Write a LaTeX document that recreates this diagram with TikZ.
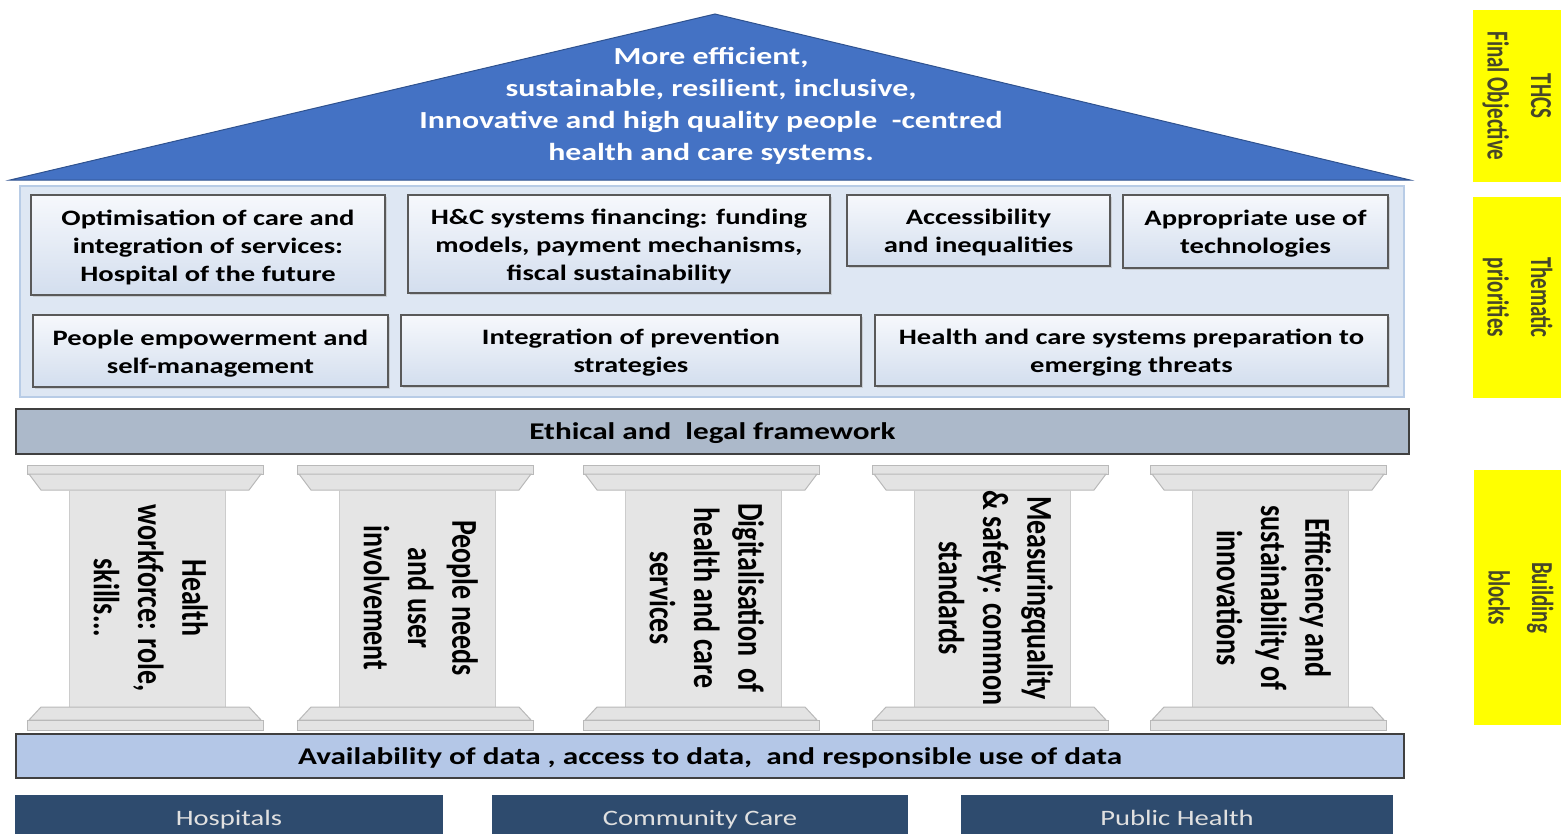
\documentclass[tikz,border=0pt]{standalone}
\usepackage{fontspec}
\setmainfont{Carlito}
\usepackage{graphicx}
\usetikzlibrary{shadows}

\definecolor{roofblue}{HTML}{4472C4}
\definecolor{roofline}{HTML}{2F528F}
\definecolor{panelfill}{HTML}{DEE7F3}
\definecolor{panelline}{HTML}{B8CCE6}
\definecolor{boxtop}{HTML}{F6F8FC}
\definecolor{boxbottom}{HTML}{D3DEEE}
\definecolor{ethicfill}{HTML}{ACB9CA}
\definecolor{datafill}{HTML}{B4C7E7}
\definecolor{sectorfill}{HTML}{2E4B6E}
\definecolor{labelyellow}{HTML}{FFFF00}
\definecolor{labeltext}{HTML}{46462A}

\newcommand*\stretchx{1.3}
\newcommand*\widetext[1]{\raisebox{-2.5pt}[\height][\depth]{%
    \scalebox{\stretchx}[1]{\begin{tabular}{@{}c@{}}#1\end{tabular}}}}
\newcommand*\talltext[1]{\scalebox{1}[\stretchx]{\begin{tabular}{@{}c@{}}#1\end{tabular}}}
\tikzset{
    roofnote/.style = {text=white, inner sep=0pt,
                      font=\bfseries\fontsize{24.5}{32}\selectfont},
    theme/.style    = {draw=gray!70!black, line width=1.8pt, inner sep=0pt,
                      top color=boxtop, bottom color=boxbottom,
                      drop shadow={shadow xshift=1.5pt, shadow yshift=-2pt, fill=gray!60},
                      font=\bfseries\fontsize{22}{28}\selectfont},
    band/.style     = {draw=black!75, line width=1.6pt, inner sep=0pt,
                      font=\bfseries\fontsize{24}{28}\selectfont},
    capital/.style  = {fill=gray!22, draw=gray!55, line width=1pt},
    shaft/.style    = {fill=gray!20, draw=gray!40, line width=1pt},
    pillartext/.style = {inner sep=0pt, font=\bfseries\fontsize{28}{34}\selectfont},
    sector/.style   = {fill=sectorfill, text=white!88!black, inner sep=0pt,
                      minimum height=45pt, font=\fontsize{22}{26}\selectfont},
    sidelabel/.style = {fill=labelyellow, text=labeltext, inner sep=0pt,
                      minimum width=90pt, font=\bfseries\fontsize{21}{30}\selectfont},
}

\begin{document}
\begin{tikzpicture}[x=1pt, y=-1pt]
    \useasboundingbox (0,0) rectangle (1561,833);

    % roof: final objective
    \filldraw[fill=roofblue, draw=roofline, line width=1pt]
        (10,180) -- (715,14) -- (1410,180) -- cycle;
    \node[roofnote] (goal) at (711,104)
        {\widetext{More efficient,\\ sustainable, resilient, inclusive,\\
         Innovative and high quality people\ \ -centred\\ health and care systems.}};

    % thematic priorities
    \filldraw[fill=panelfill, draw=panelline, line width=2pt] (20,186) rectangle (1404,397);
    % row 1
    \node[theme, minimum width=354pt, minimum height=100pt] (optim) at (208,245)
        {\widetext{Optimisation of care and\\ integration of services:\\ Hospital of the future}};
    \node[theme, minimum width=422pt, minimum height=98pt] (finance) at (619,244)
        {\widetext{H\&C systems financing: funding\\ models, payment mechanisms,\\ fiscal sustainability}};
    \node[theme, minimum width=263pt, minimum height=71pt] (access) at (978.5,230.5)
        {\widetext{Accessibility\\ and inequalities}};
    \node[theme, minimum width=265pt, minimum height=73pt] (techno) at (1255.5,231.5)
        {\widetext{Appropriate use of\\ technologies}};
    % row 2
    \node[theme, minimum width=355pt, minimum height=72pt] (empower) at (210.5,351)
        {\widetext{People empowerment and\\ self-management}};
    \node[theme, minimum width=460pt, minimum height=71pt] (prevent) at (631,350.5)
        {\widetext{Integration of prevention\\ strategies}};
    \node[theme, minimum width=513pt, minimum height=71pt] (threats) at (1131.5,350.5)
        {\widetext{Health and care systems preparation to\\ emerging threats}};

    % ethical and legal framework
    \node[band, fill=ethicfill, minimum width=1393pt, minimum height=45pt] (ethics) at (712.5,431.5)
        {\widetext{Ethical\ and\ \ legal\ framework}};

    % building blocks: the pillars
    \foreach \cx/\name/\txt in {
        145/workforce/{Health\\ workforce: role,\\ skills...},
        415/needs/{People needs\\ and user\\ involvement},
        701/digital/{Digitalisation\ \ of\\ health and care\\ services},
        990/quality/{Measuringquality\\ \& safety: common\\ standards},
        1268/innov/{Efficiency and\\ sustainability of\\ innovations}} {
        \begin{scope}[shift={(\cx,0)}]
            \filldraw[capital] (-118,465) rectangle (118,474);
            \filldraw[capital] (-116,474) -- (116,474) -- (104,490) -- (-104,490) -- cycle;
            \filldraw[shaft] (-76,490) rectangle (80,707);
            \filldraw[capital] (-104,707) -- (104,707) -- (116,720) -- (-116,720) -- cycle;
            \filldraw[capital] (-118,720) rectangle (118,730);
            \node[pillartext] (\name) at (2,598) {\rotatebox{-90}{\talltext{\txt}}};
        \end{scope}
    }

    % data foundation
    \node[band, fill=datafill, minimum width=1388pt, minimum height=44pt] (data) at (710,756)
        {\widetext{Availability of data , access to data,\ \ and responsible use of data}};

    % care settings
    \node[sector, minimum width=428pt] (hosp) at (229,817.5) {\widetext{Hospitals}};
    \node[sector, minimum width=416pt] (community) at (700,817.5) {\widetext{Community Care}};
    \node[sector, minimum width=432pt] (public) at (1177,817.5) {\widetext{Public Health}};

    % side labels
    \node[sidelabel, minimum height=172pt] (objective) at (1518,96)
        {\rotatebox{-90}{\scalebox{1}[1.45]{\begin{tabular}{@{}c@{}}THCS\\ Final Objective\end{tabular}}}};
    \node[sidelabel, minimum height=201pt] (priorities) at (1518,297.5)
        {\rotatebox{-90}{\scalebox{1}[1.45]{\begin{tabular}{@{}c@{}}Thematic\\ priorities\end{tabular}}}};
    \node[sidelabel, minimum height=255pt] (blocks) at (1519,597.5)
        {\rotatebox{-90}{\scalebox{1}[1.45]{\begin{tabular}{@{}c@{}}Building\\ blocks\end{tabular}}}};
\end{tikzpicture}
\end{document}
